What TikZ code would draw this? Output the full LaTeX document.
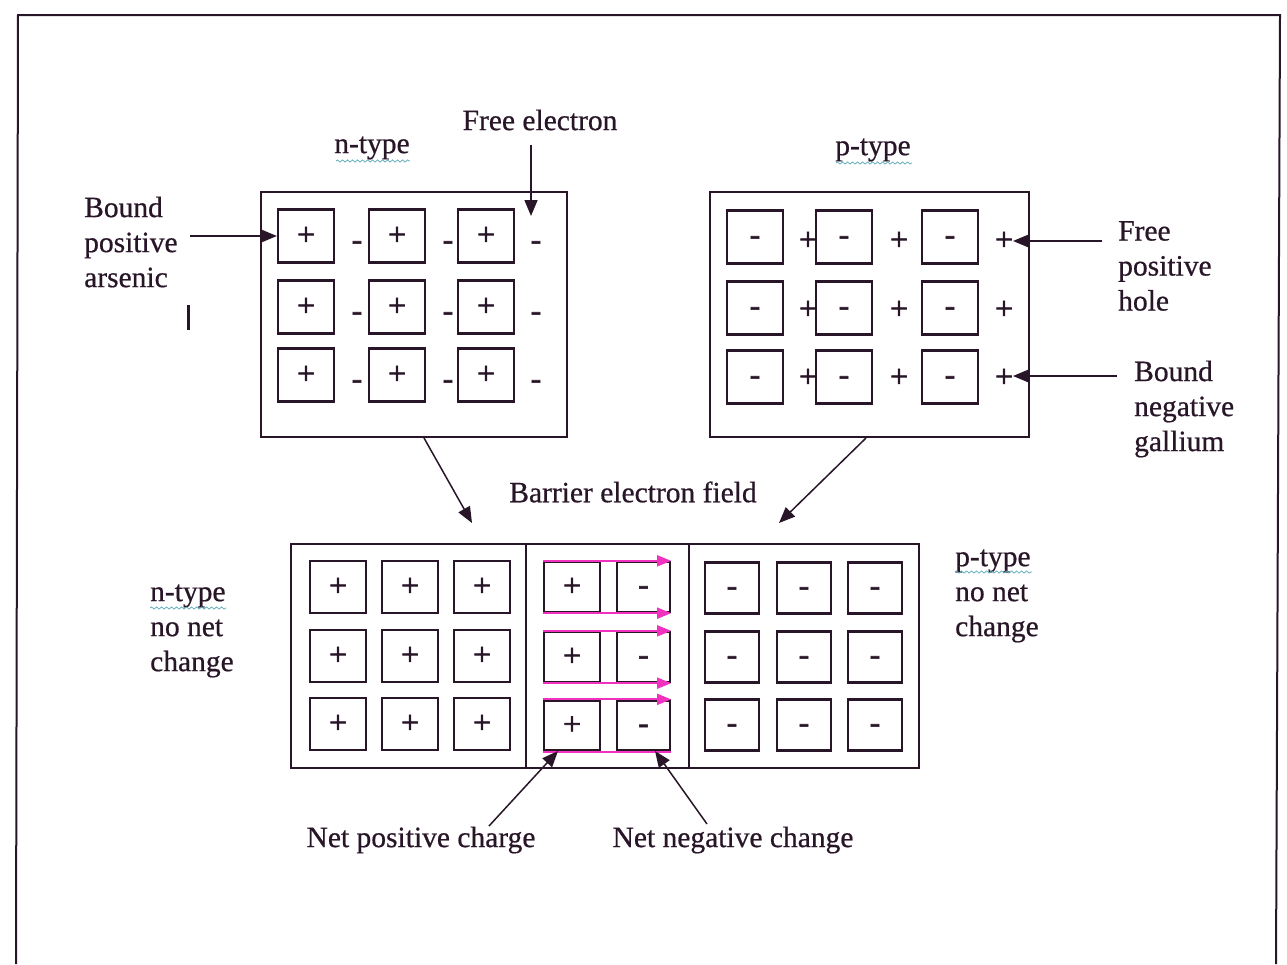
\documentclass[tikz,border=0pt]{standalone}
\usepackage{fontspec}
\setmainfont{Liberation Serif}[FakeBold=0.6]
\newfontfamily\signfont{Liberation Serif}[FakeBold=1.8]
\usetikzlibrary{arrows.meta,decorations.pathmorphing}
\definecolor{ink}{RGB}{40,22,40}
\definecolor{fieldpink}{RGB}{240,50,190}
\definecolor{squig}{RGB}{90,170,185}
% a minus glyph centred on the node's anchor
\newcommand{\ms}{\smash{\raisebox{-8pt}{-}}}
\begin{document}
\begin{tikzpicture}[x=1pt,y=-1pt,
  font=\fontsize{29.5}{35}\selectfont,
  sq/.style={draw=ink, line width=2.3pt, minimum width=56pt, minimum height=53pt, inner sep=0pt, font=\signfont\fontsize{32}{35}\selectfont, text=ink},
  mid/.style={draw=ink, line width=2.3pt, minimum height=50pt, inner sep=0pt, font=\signfont\fontsize{32}{35}\selectfont, text=ink},
  outerbox/.style={draw=ink, line width=1.8pt, inner sep=0pt},
  lbl/.style={align=left, inner sep=0pt, anchor=west, text=ink},
  ttl/.style={inner sep=0pt, text=ink},
  sign/.style={inner sep=0pt, text=ink, font=\signfont\fontsize{32}{35}\selectfont},
  arr/.style={draw=ink, line width=1.5pt, -{Triangle[length=16pt,width=13pt]}},
  field/.style={draw=fieldpink, line width=1.8pt, -{Triangle[length=14pt,width=11pt]}},
  squiggle/.style={draw=squig, line width=0.7pt, decorate, decoration={snake, amplitude=1.1pt, segment length=5pt}}
]
\useasboundingbox (0,0) rectangle (1287,964);

% page frame
\draw[ink, line width=2pt] (16,964) -- (18,15) -- (1280,15) -- (1276,964);

% ---------- n-type crystal ----------
\node[outerbox, minimum width=306pt, minimum height=245pt] (nbox) at (414,314.5) {};
\foreach \c/\x in {1/306,2/397,3/486}{
  \foreach \r/\y in {1/236,2/307,3/375}{
    \node[sq] (n\r\c) at (\x,\y) {+};
  }
}
\foreach \x in {357,448,536}{
  \foreach \y in {242,313,381}{
    \node[sign] at (\x,\y) {\ms};
  }
}
\node[ttl] (ntitle) at (372,148) {n-type};
\draw[squiggle] (336,161) -- (410,161);
\node[ttl] (fe) at (540,120) {Free electron};
\coordinate (feTail) at (531,145);
\coordinate (feTip) at (531,216);
\draw[arr] (feTail) -- (feTip);
\node[lbl] (bpa) at (84,242) {Bound\\positive\\arsenic};
\coordinate (bpaTail) at (190,236);
\draw[arr] (bpaTail) -- (n11.west);
\draw[ink, line width=3pt] (188,305) -- (188,330);

% ---------- p-type crystal ----------
\node[outerbox, minimum width=319pt, minimum height=245pt] (pbox) at (869.5,314.5) {};
\foreach \c/\x in {1/755,2/844,3/950}{
  \foreach \r/\y in {1/237,2/308,3/377}{
    \node[sq] (p\r\c) at (\x,\y) {\ms};
  }
}
\foreach \x in {808,899,1004}{
  \foreach \y/\yy in {1/241,2/310,3/378}{
    \node[sign] (h\y\x) at (\x,\yy) {+};
  }
}
\node[ttl] (ptitle) at (873,150) {p-type};
\draw[squiggle] (836,163) -- (912,163);
\node[lbl] (fph) at (1118,266) {Free\\positive\\hole};
\coordinate (fphTail) at (1102,241);
\coordinate (fphTip) at (1013,241);
\draw[arr] (fphTail) -- (fphTip);
\node[lbl] (bng) at (1134,409) {Bound\\negative\\gallium};
\coordinate (bngTail) at (1117,376);
\coordinate (bngTip) at (1013,376);
\draw[arr] (bngTail) -- (bngTip);

% ---------- junction ----------
\node[ttl] (barrier) at (633,492) {Barrier electron field};
\coordinate (nDown) at (424,438);
\coordinate (nDownTip) at (472,523);
\draw[arr] (nDown) -- (nDownTip);
\coordinate (pDown) at (866,438);
\coordinate (pDownTip) at (779,523);
\draw[arr] (pDown) -- (pDownTip);

\node[outerbox, minimum width=628pt, minimum height=224pt] (jbox) at (605,656) {};
\draw[ink, line width=1.8pt] (526,544) -- (526,768);
\draw[ink, line width=1.8pt] (689,544) -- (689,768);

% n side, unchanged
\foreach \c/\x in {1/338,2/410,3/482}{
  \foreach \r/\y in {1/587,2/656,3/724}{
    \node[sq, minimum height=52pt] (a\r\c) at (\x,\y) {+};
  }
}
% p side, unchanged
\foreach \c/\x in {1/732,2/804,3/875}{
  \foreach \r/\y in {1/588,2/657,3/725}{
    \node[sq, minimum width=54pt, minimum height=51pt] (b\r\c) at (\x,\y) {\ms};
  }
}
% depletion layer
\foreach \r/\y in {1/587,2/657,3/725.5}{
  \node[mid, minimum width=56pt] (mp\r) at (572,\y) {+};
  \node[mid, minimum width=53pt] (mm\r) at (643.5,\y) {\ms};
}
\draw[field] (mp1.north west) -- (mm1.north east);
\draw[field] (mp1.south west) -- (mm1.south east);
\draw[field] (mp2.north west) -- (mm2.north east);
\draw[field] (mp2.south west) -- (mm2.south east);
\draw[field] (mp3.north west) -- (mm3.north east);
\draw[fieldpink, line width=1.8pt] (mp3.south west) -- (mm3.south east);

\node[lbl] (nlbl) at (150,631) {n-type\\no net\\change};
\draw[squiggle] (150,608) -- (226,608);
\node[lbl] (plbl) at (955,596) {p-type\\no net\\change};
\draw[squiggle] (955,572) -- (1032,572);

\node[ttl] (npc) at (421,840) {Net positive charge};
\coordinate (npcTail) at (489,826);
\coordinate (npcTip) at (558,751);
\draw[arr] (npcTail) -- (npcTip);
\node[ttl] (nnc) at (733,840) {Net negative change};
\coordinate (nncTail) at (707,824);
\coordinate (nncTip) at (655,751);
\draw[arr] (nncTail) -- (nncTip);
\end{tikzpicture}
\end{document}
